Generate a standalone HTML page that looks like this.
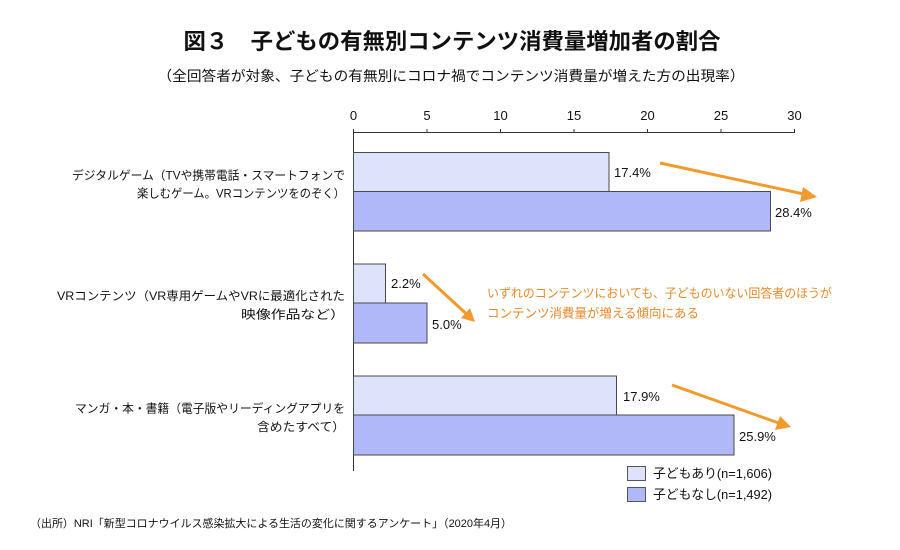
<!DOCTYPE html>
<html><head><meta charset="utf-8"><style>
html,body{margin:0;padding:0;background:#fff;}
svg{display:block;}
text{font-family:"Liberation Sans","Noto Sans CJK JP",sans-serif;fill:#111;}
</style></head><body>
<svg width="900" height="550" viewBox="0 0 900 550" xmlns="http://www.w3.org/2000/svg">
<rect width="900" height="550" fill="#fff"/>
<text x="452" y="49" font-size="22" font-weight="bold" text-anchor="middle" textLength="537" lengthAdjust="spacingAndGlyphs">図３　子どもの有無別コンテンツ消費量増加者の割合</text>
<text x="451" y="81" font-size="14" text-anchor="middle" textLength="587" lengthAdjust="spacingAndGlyphs">（全回答者が対象、子どもの有無別にコロナ禍でコンテンツ消費量が増えた方の出現率）</text>

<!-- axis -->
<g stroke="#333" stroke-width="1" fill="none">
<line x1="353.5" y1="132.5" x2="795" y2="132.5"/>
<line x1="353.5" y1="129" x2="353.5" y2="471"/>
<line x1="427" y1="129" x2="427" y2="132.5"/>
<line x1="500.5" y1="129" x2="500.5" y2="132.5"/>
<line x1="574" y1="129" x2="574" y2="132.5"/>
<line x1="647.5" y1="129" x2="647.5" y2="132.5"/>
<line x1="721" y1="129" x2="721" y2="132.5"/>
<line x1="794.5" y1="129" x2="794.5" y2="132.5"/>
</g>
<g font-size="13" text-anchor="middle">
<text x="353.5" y="120">0</text>
<text x="427" y="120">5</text>
<text x="500.5" y="120">10</text>
<text x="574" y="120">15</text>
<text x="647.5" y="120">20</text>
<text x="721" y="120">25</text>
<text x="794.5" y="120">30</text>
</g>

<!-- bars -->
<g stroke="#4a4a4a" stroke-width="1">
<rect x="353.5" y="152.5" width="255.5" height="39" fill="#dfe2fb"/>
<rect x="353.5" y="191.5" width="417" height="39.5" fill="#b0b8f9"/>
<rect x="353.5" y="264" width="32" height="39" fill="#dfe2fb"/>
<rect x="353.5" y="303" width="73.5" height="40" fill="#b0b8f9"/>
<rect x="353.5" y="376" width="263" height="39" fill="#dfe2fb"/>
<rect x="353.5" y="415" width="380.5" height="40" fill="#b0b8f9"/>
</g>
<g font-size="13">
<text x="614" y="177">17.4%</text>
<text x="775" y="217">28.4%</text>
<text x="391" y="288">2.2%</text>
<text x="432" y="329">5.0%</text>
<text x="623" y="401">17.9%</text>
<text x="739" y="441">25.9%</text>
</g>

<!-- category labels -->
<g font-size="12" text-anchor="end">
<text x="345" y="179.5" textLength="273" lengthAdjust="spacingAndGlyphs">デジタルゲーム（TVや携帯電話・スマートフォンで</text>
<text x="345" y="197.5" textLength="208" lengthAdjust="spacingAndGlyphs">楽しむゲーム。VRコンテンツをのぞく）</text>
<text x="345" y="300" textLength="288" lengthAdjust="spacingAndGlyphs">VRコンテンツ（VR専用ゲームやVRに最適化された</text>
<text x="345" y="318.5" textLength="104" lengthAdjust="spacingAndGlyphs">映像作品など）</text>
<text x="345" y="412.5" textLength="270" lengthAdjust="spacingAndGlyphs">マンガ・本・書籍（電子版やリーディングアプリを</text>
<text x="345" y="431" textLength="88" lengthAdjust="spacingAndGlyphs">含めたすべて）</text>
</g>

<!-- annotation -->
<g font-size="12.5" style="fill:#e8892a">
<text x="487" y="297.5" textLength="345" lengthAdjust="spacingAndGlyphs" style="fill:#e8892a">いずれのコンテンツにおいても、子どものいない回答者のほうが</text>
<text x="487" y="317.5" textLength="212" lengthAdjust="spacingAndGlyphs" style="fill:#e8892a">コンテンツ消費量が増える傾向にある</text>
</g>

<!-- arrows -->
<g stroke="#f39a2e" stroke-width="3" fill="none" stroke-linecap="butt">
<line x1="660" y1="163" x2="806" y2="194.5"/>
<line x1="423" y1="274" x2="467" y2="314.5"/>
<line x1="672" y1="385" x2="780" y2="423.5"/>
</g>
<g fill="#f39a2e">
<polygon points="817,197 803,187 800,202"/>
<polygon points="475,322 470,308 461,318"/>
<polygon points="791,427 780,416 775,430"/>
</g>

<!-- legend -->
<rect x="627.5" y="466.5" width="18" height="14" fill="#dfe2fb" stroke="#555"/>
<rect x="627.5" y="487.5" width="18" height="14" fill="#b0b8f9" stroke="#555"/>
<text x="653" y="478" font-size="13" textLength="119" lengthAdjust="spacingAndGlyphs">子どもあり(n=1,606)</text>
<text x="653" y="499" font-size="13" textLength="119" lengthAdjust="spacingAndGlyphs">子どもなし(n=1,492)</text>

<text x="30" y="527" font-size="11" textLength="482" lengthAdjust="spacingAndGlyphs">（出所）NRI「新型コロナウイルス感染拡大による生活の変化に関するアンケート」（2020年4月）</text>
</svg>
</body></html>
